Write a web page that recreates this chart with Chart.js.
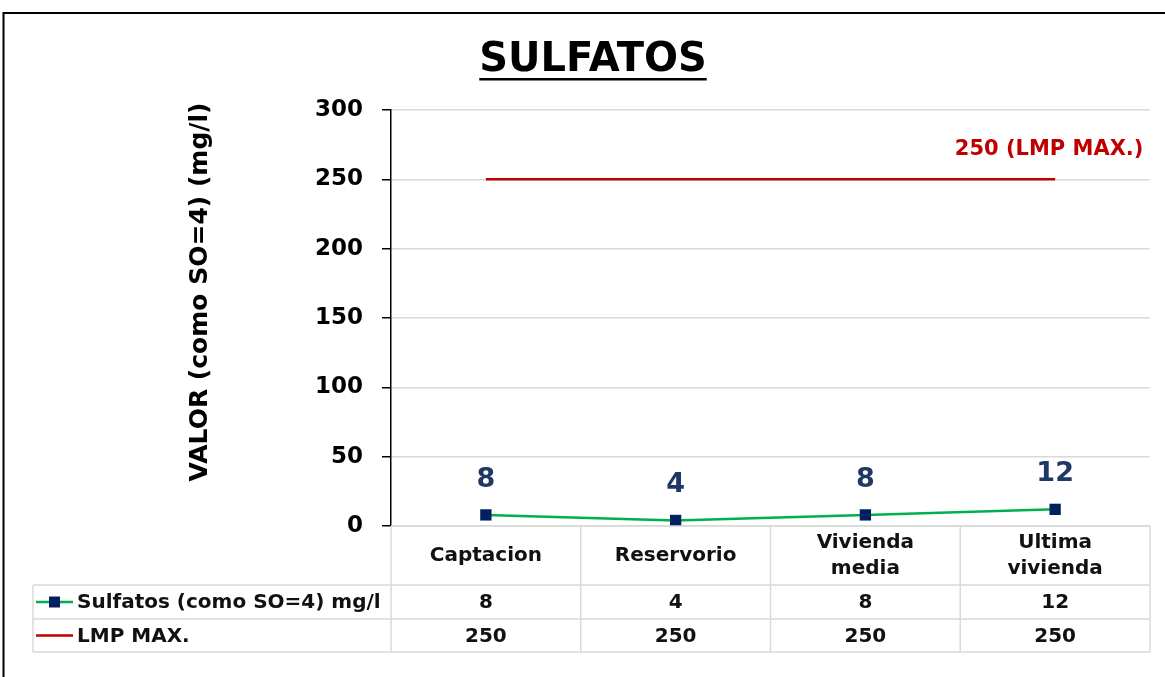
<!DOCTYPE html>
<html>
<head>
<meta charset="utf-8">
<script src="https://cdn.jsdelivr.net/npm/chart.js@4.4.1/dist/chart.umd.min.js"></script>
<style>
  html, body { margin: 0; padding: 0; background: #fff; }
  #wrap { width: 1165px; height: 677px; position: relative; }
</style>
</head>
<body>
<div id="wrap"><canvas id="sulfatosChart" width="1165" height="677"></canvas></div>
<script>
  // data
  const categories = [['Captacion'], ['Reservorio'], ['Vivienda', 'media'], ['Ultima', 'vivienda']];
  const sulfatos = [8, 4, 8, 12];
  const lmpMax = [250, 250, 250, 250];
  const yTicks = [0, 50, 100, 150, 200, 250, 300];
  const seriesNames = ['Sulfatos (como SO=4) mg/l', 'LMP MAX.'];

  const FONT = '"DejaVu Sans", sans-serif';
  const GREEN = '#00B050';
  const NAVY = '#002060';
  const RED = '#C00000';
  const GRID = '#D9D9D9';
  const rowHeights = [59, 34, 33];
  const tableLeft = 33;

  // frame, title, y title
  const decorPlugin = {
    id: 'decor',
    beforeDraw(chart) {
      const c = chart.ctx;
      c.save();
      c.strokeStyle = '#000';
      c.lineWidth = 2;
      c.beginPath();
      c.moveTo(3.5, 677);
      c.lineTo(3.5, 13);
      c.lineTo(1165, 13);
      c.stroke();

      c.fillStyle = '#000';
      c.font = 'bold 40px ' + FONT;
      c.textAlign = 'center';
      c.textBaseline = 'middle';
      c.fillText('SULFATOS', 593, 61);
      const w = c.measureText('SULFATOS').width;
      c.fillRect(593 - w / 2, 78, w, 2.5);

      c.translate(200, 292);
      c.rotate(-Math.PI / 2);
      c.font = 'bold 25px ' + FONT;
      c.fillText('VALOR (como SO=4) (mg/l)', 0, 0);
      c.restore();
    }
  };

  // value labels above the points
  const labelPlugin = {
    id: 'labels',
    afterDatasetsDraw(chart) {
      const c = chart.ctx;
      c.save();
      c.textAlign = 'center';
      c.textBaseline = 'middle';
      c.font = 'bold 27px ' + FONT;
      c.fillStyle = '#1F3864';
      chart.getDatasetMeta(0).data.forEach((p, i) => {
        c.fillText(String(sulfatos[i]), p.x, p.y - 35);
      });
      const pts = chart.getDatasetMeta(1).data;
      const last = pts[pts.length - 1];
      c.font = 'bold 21px ' + FONT;
      c.fillStyle = RED;
      c.fillText(lmpMax[lmpMax.length - 1] + ' (LMP MAX.)', last.x - 6, last.y - 30);
      c.restore();
    }
  };

  // data table under the plot
  const tablePlugin = {
    id: 'dataTable',
    afterDraw(chart) {
      const c = chart.ctx;
      const xs = chart.scales.x;
      const area = chart.chartArea;
      const n = categories.length;
      const edges = [];
      for (let i = 0; i <= n; i++) edges.push(xs.getPixelForValue(i - 0.5));
      const rows = [area.bottom];
      rowHeights.forEach(h => rows.push(rows[rows.length - 1] + h));

      c.save();
      c.strokeStyle = GRID;
      c.lineWidth = 1.5;
      c.beginPath();
      // horizontal lines
      c.moveTo(edges[0], rows[0]); c.lineTo(edges[n], rows[0]);
      for (let r = 1; r < rows.length; r++) {
        c.moveTo(tableLeft, rows[r]); c.lineTo(edges[n], rows[r]);
      }
      // vertical lines
      edges.forEach(x => { c.moveTo(x, rows[0]); c.lineTo(x, rows[rows.length - 1]); });
      c.moveTo(tableLeft, rows[1]); c.lineTo(tableLeft, rows[rows.length - 1]);
      c.stroke();

      c.fillStyle = '#111';
      c.font = 'bold 20px ' + FONT;
      c.textAlign = 'center';
      c.textBaseline = 'middle';
      const headMid = (rows[0] + rows[1]) / 2;
      categories.forEach((lines, i) => {
        const cx = (edges[i] + edges[i + 1]) / 2;
        const lh = 26;
        lines.forEach((t, k) => {
          c.fillText(t, cx, headMid + (k - (lines.length - 1) / 2) * lh);
        });
      });
      [sulfatos, lmpMax].forEach((vals, r) => {
        const cy = (rows[r + 1] + rows[r + 2]) / 2;
        vals.forEach((v, i) => {
          c.fillText(String(v), (edges[i] + edges[i + 1]) / 2, cy + 1);
        });
        // legend key
        c.strokeStyle = r === 0 ? GREEN : RED;
        c.lineWidth = 2.5;
        c.beginPath();
        c.moveTo(36, cy); c.lineTo(73, cy);
        c.stroke();
        if (r === 0) {
          c.fillStyle = NAVY;
          c.fillRect(49, cy - 5.5, 11, 11);
          c.fillStyle = '#111';
        }
        c.textAlign = 'left';
        c.fillText(seriesNames[r], 77, cy + 1);
        c.textAlign = 'center';
      });
      c.restore();
    }
  };

  const ctx = document.getElementById('sulfatosChart').getContext('2d');
  new Chart(ctx, {
    type: 'line',
    data: {
      labels: categories,
      datasets: [{
        label: seriesNames[0],
        data: sulfatos,
        borderColor: GREEN,
        borderWidth: 2.5,
        pointStyle: 'rect',
        pointRadius: 8,
        pointBackgroundColor: NAVY,
        pointBorderColor: NAVY,
        pointBorderWidth: 0,
        tension: 0
      }, {
        label: seriesNames[1],
        data: lmpMax,
        borderColor: RED,
        borderWidth: 2.5,
        pointRadius: 0,
        tension: 0
      }]
    },
    options: {
      responsive: false,
      animation: false,
      layout: { padding: { left: 0, top: 110, right: 15, bottom: 25 } },
      plugins: {
        legend: { display: false },
        title: { display: false },
        tooltip: { enabled: false }
      },
      scales: {
        x: {
          offset: true,
          ticks: { display: false },
          grid: { display: false },
          border: { display: false },
          afterFit: s => { s.height = rowHeights.reduce((a, b) => a + b, 0); }
        },
        y: {
          min: yTicks[0],
          max: yTicks[yTicks.length - 1],
          afterBuildTicks: s => { s.ticks = yTicks.map(v => ({ value: v })); },
          ticks: {
            color: '#000',
            padding: 19,
            font: { family: FONT, size: 23, weight: 'bold' }
          },
          grid: { color: GRID, lineWidth: 1.5, tickColor: '#000', tickLength: 9 },
          border: { color: '#000', width: 1.5 },
          afterFit: s => { s.width = 391; }
        }
      }
    },
    plugins: [decorPlugin, labelPlugin, tablePlugin]
  });
</script>
</body>
</html>
